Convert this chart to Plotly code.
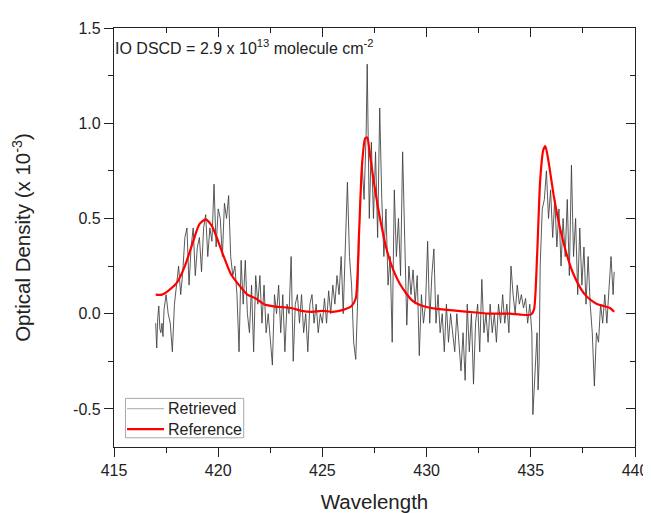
import plotly.graph_objects as go

# Retrieved (measured) optical density, x 1e-3
retrieved_wl = [
    417.0, 417.05, 417.1, 417.15, 417.2, 417.25, 417.3, 417.35, 417.4, 417.5, 417.6, 417.7, 417.8, 417.9,
    418.0, 418.1, 418.2, 418.3, 418.4, 418.5, 418.6, 418.7, 418.8, 418.9, 419.0, 419.1, 419.2,
    419.3, 419.4, 419.5, 419.6, 419.7, 419.8, 419.9, 420.0, 420.1, 420.2, 420.3, 420.4, 420.5,
    420.6, 420.7, 420.8, 420.9, 421.0, 421.1, 421.2, 421.3, 421.4, 421.5, 421.6, 421.7, 421.8,
    421.9, 422.0, 422.1, 422.2, 422.3, 422.4, 422.5, 422.6, 422.7, 422.8, 422.9, 423.0, 423.1,
    423.2, 423.3, 423.4, 423.5, 423.6, 423.7, 423.8, 423.9, 424.0, 424.1, 424.2, 424.3, 424.4,
    424.5, 424.6, 424.7, 424.8, 424.9, 425.0, 425.1, 425.2, 425.3, 425.4, 425.5, 425.6, 425.7,
    425.8, 425.9, 426.0, 426.1, 426.2, 426.3, 426.4, 426.5, 426.6, 426.7, 426.8, 426.9, 427.0,
    427.1, 427.15, 427.25, 427.35, 427.45, 427.55, 427.65, 427.75, 427.85, 427.95, 428.05, 428.15,
    428.25, 428.35, 428.45, 428.55, 428.65, 428.75, 428.85, 428.95, 429.05, 429.15, 429.25, 429.35,
    429.45, 429.55, 429.65, 429.75, 429.85, 429.95, 430.05, 430.15, 430.25, 430.35, 430.45, 430.55,
    430.65, 430.75, 430.85, 430.95, 431.05, 431.15, 431.25, 431.35, 431.45, 431.55, 431.65, 431.75,
    431.85, 431.95, 432.05, 432.15, 432.25, 432.35, 432.45, 432.55, 432.65, 432.75, 432.85, 432.95,
    433.05, 433.15, 433.25, 433.35, 433.45, 433.55, 433.65, 433.75, 433.85, 433.95, 434.05, 434.15,
    434.25, 434.35, 434.45, 434.55, 434.65, 434.75, 434.85, 434.95, 435.05, 435.1, 435.2, 435.3,
    435.35, 435.4, 435.45, 435.55, 435.65, 435.75, 435.85, 435.95, 436.05, 436.15, 436.25, 436.35,
    436.45, 436.55, 436.65, 436.75, 436.85, 436.95, 437.05, 437.15, 437.25, 437.35, 437.45, 437.55,
    437.65, 437.75, 437.85, 437.95, 438.05, 438.15, 438.25, 438.35, 438.45, 438.55, 438.65, 438.75,
    438.85, 438.95, 439.0,
]
retrieved_od = [
    -0.05, -0.18, -0.02, 0.04, -0.08, -0.10, -0.05, -0.12, 0.02, 0.10, 0.00, -0.05, -0.20, 0.05,
    0.15, 0.25, 0.10, 0.22, 0.40, 0.45, 0.15, 0.35, 0.45, 0.20, 0.35, 0.40, 0.22,
    0.45, 0.52, 0.30, 0.45, 0.38, 0.68, 0.35, 0.55, 0.50, 0.30, 0.58, 0.50, 0.62,
    0.30, 0.20, 0.25, 0.10, -0.20, 0.28, 0.05, 0.28, 0.00, -0.10, 0.15, -0.20, 0.20,
    0.05, 0.20, -0.05, 0.15, -0.10, 0.00, -0.15, -0.27, 0.10, 0.00, 0.15, -0.10, 0.10,
    -0.20, 0.05, 0.00, 0.30, -0.25, 0.05, 0.10, -0.05, 0.10, -0.10, 0.00, -0.20, 0.05,
    0.10, -0.05, 0.05, -0.10, 0.00, -0.05, 0.08, -0.05, 0.12, 0.00, 0.15, 0.05, 0.20,
    0.10, 0.30, 0.00, 0.35, 0.69, 0.30, 0.15, -0.15, -0.24, 0.10, 0.55, 0.80, 0.60,
    0.95, 1.31, 0.50, 0.90, 0.50, 0.85, 0.40, 1.08, 0.60, 0.30, 0.55, 0.15,
    0.30, -0.15, 0.65, 0.30, 0.50, 0.20, 0.85, 0.30, -0.06, 0.25, 0.10, 0.23,
    0.05, 0.20, -0.22, 0.10, -0.05, 0.05, 0.38, -0.05, 0.20, 0.34, -0.05, 0.10,
    -0.10, 0.00, -0.20, 0.05, -0.15, 0.00, -0.10, -0.20, 0.00, -0.15, -0.30, -0.10,
    -0.35, 0.05, -0.20, 0.00, -0.37, -0.05, 0.05, -0.20, 0.18, -0.10, 0.00, -0.15,
    0.05, -0.10, 0.00, -0.15, 0.05, -0.05, 0.10, -0.05, 0.05, -0.10, 0.25, 0.10,
    0.00, 0.15, 0.05, 0.10, 0.03, 0.08, -0.05, 0.05, -0.10, -0.53, -0.30, -0.10,
    -0.40, -0.25, 0.25, 0.55, 0.60, 0.75, 0.50, 0.65, 0.40, 0.60, 0.35, 0.55,
    0.25, 0.50, 0.30, 0.60, 0.20, 0.78, 0.30, 0.50, 0.10, 0.45, 0.15, 0.35,
    0.05, 0.30, 0.05, -0.10, -0.38, -0.10, -0.15, 0.05, -0.05, 0.10, -0.05, 0.15,
    0.30, 0.10, 0.22,
]

# Reference cross-section fit
reference_wl = [
    417.0, 417.3, 417.6, 418.0, 418.4, 418.8, 419.1, 419.4, 419.7, 420.0, 420.3, 420.6, 421.0,
    421.4, 421.8, 422.2, 422.6, 423.0, 423.5, 424.0, 424.5, 425.0, 425.5, 426.0, 426.4, 426.6,
    426.75, 426.9, 427.05, 427.15, 427.3, 427.5, 427.8, 428.1, 428.4, 428.7, 429.0, 429.3, 429.6,
    430.0, 430.5, 431.0, 431.5, 432.0, 432.5, 433.0, 433.5, 434.0, 434.5, 435.0, 435.15, 435.3,
    435.45, 435.6, 435.7, 435.85, 436.1, 436.4, 436.7, 437.0, 437.3, 437.6, 437.9, 438.2, 438.5,
    438.8, 439.0,
]
reference_od = [
    0.10, 0.10, 0.12, 0.16, 0.25, 0.38, 0.47, 0.495, 0.46, 0.38, 0.29, 0.21, 0.15,
    0.10, 0.08, 0.05, 0.04, 0.035, 0.03, 0.015, 0.01, 0.015, 0.01, 0.02, 0.04, 0.08,
    0.40, 0.78, 0.92, 0.925, 0.82, 0.67, 0.48, 0.33, 0.23, 0.16, 0.11, 0.07, 0.05,
    0.035, 0.025, 0.02, 0.015, 0.01, 0.005, 0.0, 0.0, 0.0, -0.005, -0.005, 0.02, 0.30,
    0.70, 0.86, 0.88, 0.80, 0.62, 0.45, 0.32, 0.22, 0.15, 0.10, 0.07, 0.05, 0.04,
    0.03, 0.01,
]

series_names = ["Retrieved", "Reference"]
series_colors = ["#3c3c3c", "#ff0000"]
series_widths = [0.85, 2.2]
legend_sample_colors = ["#9a9a9a", "#ff0000"]

x_ticks = [415, 420, 425, 430, 435, 440]
y_ticks = [-0.5, 0.0, 0.5, 1.0, 1.5]
y_tick_labels = ["-0.5", "0.0", "0.5", "1.0", "1.5"]

FONT = "Liberation Sans, Arial, sans-serif"
INK = "#222222"

fig = go.Figure()
fig.add_trace(go.Scatter(
    x=retrieved_wl, y=retrieved_od, mode="lines", name=series_names[0],
    line=dict(color=series_colors[0], width=series_widths[0]), showlegend=False,
))
fig.add_trace(go.Scatter(
    x=reference_wl, y=reference_od, mode="lines", name=series_names[1],
    line=dict(color=series_colors[1], width=series_widths[1], shape="spline", smoothing=0.6),
    showlegend=False,
))

axis_common = dict(showgrid=False, zeroline=False, showline=True, linecolor=INK,
                   linewidth=1.2, tickcolor=INK, ticklen=9, tickwidth=1.2)

fig.update_layout(
    width=651, height=513,
    margin=dict(l=106, r=11, t=20, b=63),
    paper_bgcolor="white", plot_bgcolor="white",
    font=dict(family=FONT, color=INK, size=16),
    showlegend=False,
    xaxis=dict(range=[415, 440], tickvals=x_ticks, ticks="outside", ticklabeloverflow="allow",
               minor=dict(dtick=2.5, tick0=415, ticks="outside", ticklen=5, tickcolor=INK),
               title=dict(text="Wavelength", font=dict(size=20.5), standoff=16),
               tickfont=dict(size=16), **axis_common),
    yaxis=dict(range=[-0.7, 1.5], tickvals=y_ticks, ticktext=y_tick_labels, ticks="outside",
               minor=dict(dtick=0.25, tick0=0, ticks="outside", ticklen=5, tickcolor=INK),
               title=dict(text="Optical Density (x 10<sup>-3</sup>)", font=dict(size=20.5), standoff=36),
               tickfont=dict(size=16), **axis_common),
    xaxis2=dict(range=[415, 440], overlaying="x", side="top", tickvals=x_ticks, ticks="inside",
                showticklabels=False,
                minor=dict(dtick=2.5, tick0=415, ticks="inside", ticklen=5, tickcolor=INK),
                **axis_common),
    yaxis2=dict(range=[-0.7, 1.5], overlaying="y", side="right", tickvals=y_ticks, ticks="inside",
                showticklabels=False,
                minor=dict(dtick=0.25, tick0=0, ticks="inside", ticklen=5, tickcolor=INK),
                **axis_common),
)

# invisible trace to activate the mirrored axes
fig.add_trace(go.Scatter(x=[415], y=[-0.7], xaxis="x2", yaxis="y2", mode="markers",
                         marker=dict(opacity=0), showlegend=False, hoverinfo="skip"))

fig.add_annotation(
    text="IO DSCD = 2.9 x 10<sup>13</sup> molecule cm<sup>-2</sup>",
    xref="paper", yref="paper", x=-0.002, y=0.955, xanchor="left", yanchor="middle",
    showarrow=False, font=dict(size=16, family=FONT, color=INK),
)

# Legend box (drawn in paper coordinates)
fig.add_shape(type="rect", xref="paper", yref="paper", x0=0.022, x1=0.249, y0=0.022, y1=0.116,
              line=dict(color="#aaaaaa", width=1), fillcolor="white", layer="above")
legend_y = [0.0914, 0.0426]
for name, color, width, ly in zip(series_names, legend_sample_colors, series_widths, legend_y):
    fig.add_shape(type="line", xref="paper", yref="paper", x0=0.025, x1=0.096, y0=ly, y1=ly,
                  line=dict(color=color, width=width), layer="above")
    fig.add_annotation(text=name, xref="paper", yref="paper", x=0.100, y=ly,
                       xanchor="left", yanchor="middle", showarrow=False,
                       font=dict(size=16, family=FONT, color=INK))

fig.write_html("out.html")
